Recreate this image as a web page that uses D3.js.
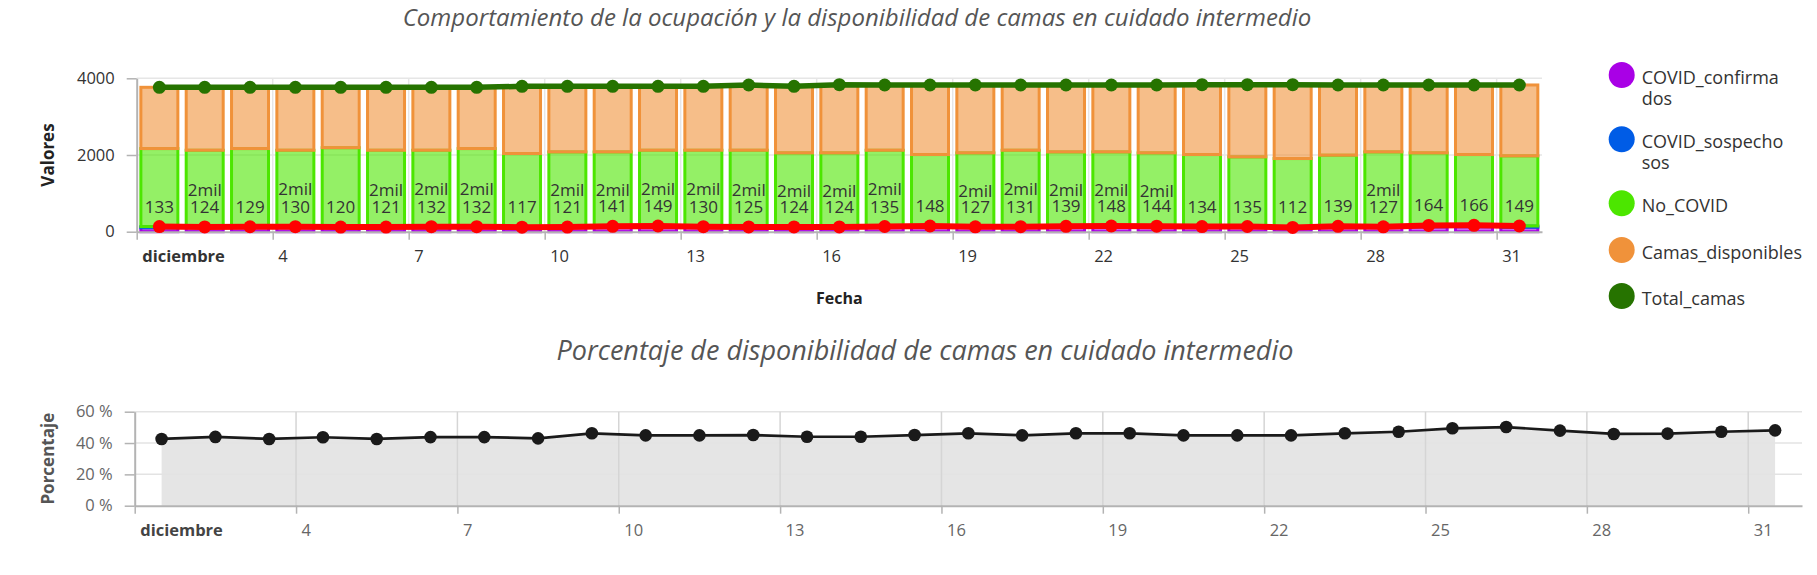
<!DOCTYPE html>
<html>
<head>
<meta charset="utf-8">
<script src="https://cdn.jsdelivr.net/npm/d3@7"></script>
<style>
  body { margin: 0; background: #fff; }
  text { font-family: "Open Sans", sans-serif; }
</style>
</head>
<body>
<div id="chart"></div>
<script>
// ---- data (diciembre) ----
var days = [1,2,3,4,5,6,7,8,9,10,11,12,13,14,15,16,17,18,19,20,21,22,23,24,25,26,27,28,29,30,31];
var covidConfirmados = [103,118,123,124,114,116,104,126,92,116,135,143,124,119,118,118,129,142,121,125,133,142,138,128,129,84,133,121,130,132,117];
var covidSospechosos = [30,6,6,6,6,5,28,6,25,5,6,6,6,6,6,6,6,6,6,6,6,6,6,6,6,28,6,6,34,34,32];
var noCovid = [2035,2000,2039,1994,2070,2003,1992,2036,1921,1959,1939,1975,1994,1999,1931,1931,1989,1864,1928,1993,1941,1932,1911,1878,1816,1796,1856,1953,1891,1846,1828];
var camasDisponibles = [1597,1641,1597,1641,1575,1641,1641,1597,1752,1710,1710,1666,1666,1702,1735,1779,1702,1814,1771,1702,1746,1746,1771,1822,1883,1926,1839,1746,1771,1814,1849];
var totalCamas = [3765,3765,3765,3765,3765,3765,3765,3765,3790,3790,3790,3790,3790,3826,3790,3834,3826,3826,3826,3826,3826,3826,3826,3834,3834,3834,3826,3826,3826,3826,3826];
var covidTotal = [133,124,129,130,120,121,132,132,117,121,141,149,130,125,124,124,135,148,127,131,139,148,144,134,135,112,139,127,164,166,149];
var porcentajeDisp = [42.6,43.9,42.6,43.7,42.6,43.8,43.8,43.0,46.2,44.9,44.9,45.1,44.0,44.0,45.1,46.2,44.9,46.2,46.2,44.9,44.9,44.9,46.2,47.2,49.4,50.2,47.9,45.8,46.0,47.2,48.1];
// days where the No_COVID label is shown
var noCovidLabelDays = [2,4,6,7,8,10,11,12,13,14,15,16,17,19,20,21,22,23,28];

var tickDays = [1,4,7,10,13,16,19,22,25,28,31];
var tickLabels = ["diciembre","4","7","10","13","16","19","22","25","28","31"];
var yTicksTop = [0,2000,4000];
var yTicksBottom = [0,20,40,60];

var seriesNames = ["COVID_confirmados","COVID_sospechosos","No_COVID","Camas_disponibles","Total_camas"];
var legendLines = [["COVID_confirma","dos"],["COVID_sospecho","sos"],["No_COVID"],["Camas_disponibles"],["Total_camas"]];
var seriesColors = ["#a900e6","#005ce6","#4ce600","#f0923a","#267300"];

var title1 = "Comportamiento de la ocupación y la disponibilidad de camas en cuidado intermedio";
var title2 = "Porcentaje de disponibilidad de camas en cuidado intermedio";

var W = 1817, H = 575;
var svg = d3.select("#chart").append("svg")
    .attr("width", W)
    .attr("height", H);

function dayDate(d, h) { return new Date(2020, 11, d, h || 0); }
var x0 = dayDate(1), x1 = new Date(2021, 0, 1);

// ================= top chart =================
var box1 = {left: 136.7, right: 1542, top: 78.3, bottom: 231.7};
var x = d3.scaleTime().domain([x0, x1]).range([box1.left, box1.right]);
var y = d3.scaleLinear().domain([0, 4000]).range([box1.bottom, box1.top]);

svg.append("text")
    .attr("x", 857).attr("y", 26)
    .attr("text-anchor", "middle")
    .attr("font-size", 24).attr("font-style", "italic")
    .attr("fill", "#555")
    .text(title1);

// grid
var gTop = svg.append("g");
gTop.selectAll(".hg").data(yTicksTop.slice(1)).enter().append("line")
    .attr("x1", box1.left).attr("x2", box1.right)
    .attr("y1", function(d){ return y(d); }).attr("y2", function(d){ return y(d); })
    .attr("stroke", "#e6e6e6").attr("stroke-width", 1.5);
gTop.selectAll(".vg").data(tickDays.slice(1)).enter().append("line")
    .attr("x1", function(d){ return x(dayDate(d)); }).attr("x2", function(d){ return x(dayDate(d)); })
    .attr("y1", box1.top).attr("y2", box1.bottom)
    .attr("stroke", "#e6e6e6").attr("stroke-width", 1.5);

// stacked bars
var stackData = days.map(function(d, i){
    return {day: d, COVID_confirmados: covidConfirmados[i], COVID_sospechosos: covidSospechosos[i],
            No_COVID: noCovid[i], Camas_disponibles: camasDisponibles[i]};
});
var stack = d3.stack().keys(seriesNames.slice(0, 4))(stackData);
var barW = 40, sw = 3;
stack.forEach(function(layer, k){
    var col = seriesColors[k];
    gTop.append("g").selectAll("rect").data(layer).enter().append("rect")
        .attr("x", function(d){ return x(dayDate(d.data.day, 12)) - barW/2 + sw/2; })
        .attr("width", barW - sw)
        .attr("y", function(d){ return y(d[1]); })
        .attr("height", function(d){ return Math.max(0.5, y(d[0]) - y(d[1])); })
        .attr("fill", col).attr("fill-opacity", 0.6)
        .attr("stroke", col).attr("stroke-width", sw);
});

// axes
var xAxisTop = svg.append("g")
    .attr("transform", "translate(0," + box1.bottom + ")")
    .call(d3.axisBottom(x)
        .tickValues(tickDays.map(function(d){ return dayDate(d); }))
        .tickFormat(function(d, i){ return tickLabels[i]; })
        .tickSize(8).tickSizeOuter(0));
var yAxisTop = svg.append("g")
    .attr("transform", "translate(" + box1.left + ",0)")
    .call(d3.axisLeft(y).tickValues(yTicksTop).tickFormat(d3.format("d"))
        .tickSize(10).tickPadding(12).tickSizeOuter(0));

function styleAxis(g, col) {
    g.attr("font-family", "Open Sans").attr("font-size", 16.5);
    g.select(".domain").attr("stroke", "#b3b3b3").attr("stroke-width", 2);
    g.selectAll(".tick line").attr("stroke", "#b3b3b3").attr("stroke-width", 1.5);
    g.selectAll(".tick text").attr("fill", col);
}
function styleXLabels(g) {
    g.selectAll(".tick text")
        .attr("text-anchor", "start").attr("x", 5).attr("y", 30).attr("dy", 0)
        .attr("font-weight", function(d, i){ return i === 0 ? "bold" : "normal"; });
}
styleAxis(xAxisTop, "#333"); styleXLabels(xAxisTop);
styleAxis(yAxisTop, "#333");

svg.append("text")
    .attr("transform", "translate(54,155) rotate(-90)")
    .attr("text-anchor", "middle")
    .attr("font-size", 17).attr("font-weight", "bold").attr("fill", "#222")
    .text("Valores");
svg.append("text")
    .attr("x", (box1.left + box1.right) / 2).attr("y", 304)
    .attr("text-anchor", "middle")
    .attr("font-size", 16).attr("font-weight", "bold").attr("fill", "#222")
    .text("Fecha");

// lines
var line = d3.line()
    .x(function(d){ return x(dayDate(d.day, 12)); })
    .y(function(d){ return y(d.v); });
function drawLine(vals, col, width) {
    var pts = days.map(function(d, i){ return {day: d, v: vals[i]}; });
    svg.append("path").datum(pts)
        .attr("d", line).attr("fill", "none")
        .attr("stroke", col).attr("stroke-width", width);
    svg.append("g").selectAll("circle").data(pts).enter().append("circle")
        .attr("cx", function(d){ return x(dayDate(d.day, 12)); })
        .attr("cy", function(d){ return y(d.v); })
        .attr("r", 6.5).attr("fill", col);
}
drawLine(covidTotal, "#ff0000", 6);
drawLine(totalCamas, "#267300", 5.5);

// labels
var gLab = svg.append("g").attr("font-size", 17).attr("fill", "#333").attr("text-anchor", "middle");
gLab.selectAll(".num").data(days).enter().append("text")
    .attr("x", function(d){ return x(dayDate(d, 12)); })
    .attr("y", function(d, i){ return y(covidTotal[i]) - 20 + 6; })
    .text(function(d, i){ return covidTotal[i]; });
gLab.selectAll(".mil").data(days.filter(function(d){ return noCovidLabelDays.indexOf(d) >= 0; })).enter().append("text")
    .attr("x", function(d){ return x(dayDate(d, 12)); })
    .attr("y", function(d){
        var i = d - 1;
        var base = covidConfirmados[i] + covidSospechosos[i];
        return y(base + noCovid[i] / 2) + 7;
    })
    .text(function(d){ return Math.round(noCovid[d - 1] / 1000) + "mil"; });

// legend
var leg = svg.append("g");
var legY = [75, 139.3, 203.3, 250, 296];
legendLines.forEach(function(lines, i){
    leg.append("circle").attr("cx", 1621.7).attr("cy", legY[i]).attr("r", 13).attr("fill", seriesColors[i]);
    var t = leg.append("text").attr("x", 1641.7).attr("y", legY[i] + 9)
        .attr("font-size", 18).attr("fill", "#333");
    lines.forEach(function(s, j){
        t.append("tspan").attr("x", 1641.7).attr("dy", j === 0 ? 0 : 21).text(s);
    });
});

// ================= bottom chart =================
var box2 = {left: 134.7, right: 1802, top: 411.7, bottom: 505.7};
var x2 = d3.scaleTime().domain([x0, x1]).range([box2.left, box2.right]);
var y2 = d3.scaleLinear().domain([0, 60]).range([box2.bottom, box2.top]);

svg.append("text")
    .attr("x", 925).attr("y", 359.5)
    .attr("text-anchor", "middle")
    .attr("font-size", 27).attr("font-style", "italic")
    .attr("fill", "#555")
    .text(title2);

var gBot = svg.append("g");
var pctPts = days.map(function(d, i){ return {day: d, v: porcentajeDisp[i]}; });
gBot.append("path").datum(pctPts)
    .attr("d", d3.area()
        .x(function(d){ return x2(dayDate(d.day, 12)); })
        .y0(y2(0))
        .y1(function(d){ return y2(d.v); }))
    .attr("fill", "#000").attr("fill-opacity", 0.1);
gBot.selectAll(".hg").data(yTicksBottom.slice(1)).enter().append("line")
    .attr("x1", box2.left).attr("x2", box2.right)
    .attr("y1", function(d){ return y2(d); }).attr("y2", function(d){ return y2(d); })
    .attr("stroke", "#e3e3e3").attr("stroke-width", 1.5);
gBot.selectAll(".vg").data(tickDays.slice(1)).enter().append("line")
    .attr("x1", function(d){ return x2(dayDate(d)); }).attr("x2", function(d){ return x2(dayDate(d)); })
    .attr("y1", box2.top).attr("y2", box2.bottom)
    .attr("stroke", "#d5d5d5").attr("stroke-width", 1.5);

var xAxisBot = svg.append("g")
    .attr("transform", "translate(0," + box2.bottom + ")")
    .call(d3.axisBottom(x2)
        .tickValues(tickDays.map(function(d){ return dayDate(d); }))
        .tickFormat(function(d, i){ return tickLabels[i]; })
        .tickSize(8).tickSizeOuter(0));
var yAxisBot = svg.append("g")
    .attr("transform", "translate(" + box2.left + ",0)")
    .call(d3.axisLeft(y2).tickValues(yTicksBottom).tickFormat(function(d){ return d + " %"; })
        .tickSize(10).tickPadding(12).tickSizeOuter(0));
styleAxis(xAxisBot, "#666"); styleXLabels(xAxisBot);
xAxisBot.selectAll(".tick text").filter(function(d, i){ return i === 0; }).attr("fill", "#444");
styleAxis(yAxisBot, "#666");

svg.append("text")
    .attr("transform", "translate(54,458.7) rotate(-90)")
    .attr("text-anchor", "middle")
    .attr("font-size", 17).attr("font-weight", "bold").attr("fill", "#555")
    .text("Porcentaje");

gBot.append("path").datum(pctPts)
    .attr("d", d3.line()
        .x(function(d){ return x2(dayDate(d.day, 12)); })
        .y(function(d){ return y2(d.v); }))
    .attr("fill", "none").attr("stroke", "#1a1a1a").attr("stroke-width", 2.7);
gBot.selectAll("circle").data(pctPts).enter().append("circle")
    .attr("cx", function(d){ return x2(dayDate(d.day, 12)); })
    .attr("cy", function(d){ return y2(d.v); })
    .attr("r", 6.3).attr("fill", "#1a1a1a");
</script>
</body>
</html>
